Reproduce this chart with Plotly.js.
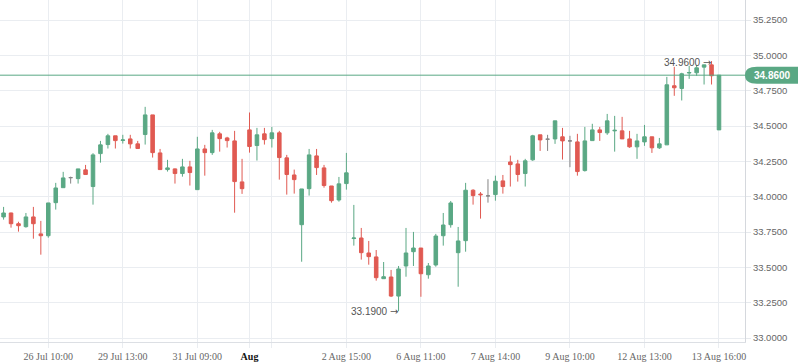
<!DOCTYPE html>
<html>
<head>
<meta charset="utf-8">
<script src="https://cdn.plot.ly/plotly-3.0.1.min.js"></script>
<style>html,body{margin:0;padding:0;background:#fff}#chart{width:798px;height:363px}</style>
</head>
<body>
<div id="chart"></div>
<script>
var opens = [33.857,33.885,33.809,33.788,33.857,33.737,33.724,33.958,34.064,34.135,
34.128,34.190,34.072,34.305,34.369,34.431,34.398,34.409,34.374,34.440,
34.579,34.310,34.192,34.197,34.164,34.211,34.050,34.338,34.312,34.445,
34.416,34.395,34.105,34.473,34.362,34.445,34.411,34.452,34.275,34.154,
33.802,34.057,34.289,34.204,34.076,33.977,34.093,33.704,33.708,33.602,
33.574,33.420,33.432,33.297,33.510,33.611,33.637,33.448,33.517,33.724,
33.802,33.604,33.689,34.046,34.019,34.006,34.015,34.112,34.246,34.232,
34.164,34.261,34.438,34.407,34.409,34.424,34.395,34.388,34.185,34.397,
34.473,34.452,34.466,34.466,34.409,34.353,34.388,34.424,34.346,34.367,
34.785,34.766,34.875,34.877,34.917,34.933,34.473];
var highs = [33.928,33.887,33.823,33.885,33.928,33.829,33.956,34.098,34.176,34.142,
34.197,34.225,34.308,34.395,34.445,34.431,34.438,34.438,34.395,34.636,
34.579,34.338,34.261,34.200,34.268,34.254,34.424,34.367,34.473,34.459,
34.424,34.466,34.268,34.596,34.487,34.487,34.494,34.466,34.296,34.192,
34.055,34.338,34.338,34.225,34.076,34.140,34.310,33.942,33.779,33.687,
33.623,33.538,33.482,33.510,33.779,33.751,33.637,33.531,33.737,33.885,
33.970,33.786,34.098,34.053,34.033,34.124,34.149,34.154,34.291,34.261,
34.268,34.438,34.438,34.438,34.537,34.487,34.431,34.445,34.494,34.516,
34.494,34.586,34.572,34.565,34.466,34.445,34.508,34.424,34.416,34.848,
34.919,34.877,34.926,34.933,34.933,34.960,34.860];
var lows = [33.838,33.781,33.753,33.781,33.703,33.590,33.710,33.909,34.064,34.093,
34.093,34.157,33.944,34.241,34.341,34.341,34.376,34.341,34.341,34.369,
34.277,34.192,34.178,34.093,34.142,34.079,34.050,34.149,34.296,34.319,
34.348,33.887,34.020,34.312,34.256,34.369,34.348,34.121,34.015,34.022,
33.540,34.008,34.154,34.064,33.958,33.965,34.050,33.654,33.555,33.519,
33.406,33.420,33.290,33.190,33.434,33.510,33.292,33.420,33.505,33.654,
33.781,33.363,33.611,33.944,33.845,33.958,33.972,34.022,34.072,34.107,
34.072,34.254,34.324,34.324,34.374,34.263,34.209,34.149,34.178,34.395,
34.395,34.438,34.319,34.409,34.346,34.268,34.360,34.310,34.338,34.367,
34.714,34.681,34.834,34.856,34.794,34.794,34.473];
var closes = [33.885,33.809,33.795,33.857,33.809,33.724,33.956,34.062,34.133,34.135,
34.197,34.157,34.296,34.367,34.431,34.397,34.402,34.374,34.341,34.579,
34.312,34.192,34.204,34.164,34.211,34.171,34.338,34.312,34.452,34.411,
34.397,34.107,34.057,34.355,34.438,34.404,34.452,34.277,34.157,34.121,
34.055,34.296,34.206,34.079,33.972,34.091,34.169,33.708,33.604,33.576,
33.427,33.434,33.297,33.489,33.602,33.637,33.455,33.510,33.722,33.800,
33.956,33.687,34.046,34.008,34.014,34.006,34.110,34.072,34.227,34.157,
34.254,34.431,34.402,34.407,34.537,34.395,34.395,34.178,34.395,34.473,
34.454,34.537,34.470,34.409,34.353,34.395,34.424,34.346,34.374,34.792,
34.771,34.870,34.879,34.912,34.933,34.856,34.860];

var tickIdx = [6,16,26,33,36,46,56,66,76,86,96];
var tickLabels = ["26 Jul 10:00","29 Jul 13:00","31 Jul 09:00","<b><span style=\"color:#111\">Aug</span></b>","","2 Aug 15:00","6 Aug 11:00","7 Aug 14:00","9 Aug 10:00","12 Aug 13:00","13 Aug 16:00"];
var monthIdx = 33;
var highLabel = {idx:95, value:34.96, text:"34.9600"};
var lowLabel = {idx:53, value:33.19, text:"33.1900"};
var lastPrice = 34.86;

var GREEN = "#5aa884", RED = "#e05a52", GRAY = "#858585";
var xs = opens.map(function(_, i){return i;});
function pick(arr, cond){ var r=[]; for (var i=0;i<arr.length;i++) if (cond(i)) r.push(arr[i]); return r; }
var isDoji = function(i){return opens[i] === closes[i];};
var notDoji = function(i){return opens[i] !== closes[i];};

var main = {type:"candlestick", x:pick(xs,notDoji), open:pick(opens,notDoji), high:pick(highs,notDoji), low:pick(lows,notDoji), close:pick(closes,notDoji),
  increasing:{line:{color:GREEN,width:1}, fillcolor:GREEN}, decreasing:{line:{color:RED,width:1}, fillcolor:RED},
  whiskerwidth:0, hoverinfo:"none", showlegend:false};
var doji = {type:"candlestick", x:pick(xs,isDoji), open:pick(opens,isDoji), high:pick(highs,isDoji), low:pick(lows,isDoji), close:pick(closes,isDoji),
  increasing:{line:{color:GRAY,width:1}, fillcolor:GRAY}, decreasing:{line:{color:GRAY,width:1}, fillcolor:GRAY},
  whiskerwidth:0, hoverinfo:"none", showlegend:false};

var yMin = 32.972, yMax = 35.392;
function yp(v){ return (v - yMin)/(yMax - yMin); }
var tagH = 0.06;
var xr = 1 + 53/745, xc = 1 + 12/745;
var yt = yp(lastPrice + tagH), yb = yp(lastPrice - tagH), ym = yp(lastPrice);
var tagPath = "M 1 " + ym + " Q 1 " + yt + " " + xc + " " + yt + " L " + xr + " " + yt + " L " + xr + " " + yb + " L " + xc + " " + yb + " Q 1 " + yb + " 1 " + ym + " Z";
var arrow = " <span style=\"font-family:DejaVu Sans\">→</span>";

var layout = {
  width:798, height:363,
  margin:{l:0, r:53, t:0, b:21, pad:0},
  paper_bgcolor:"#fff", plot_bgcolor:"#fff",
  showlegend:false, boxgap:0.32,
  xaxis:{type:"linear", range:[-0.48, 99.49], rangeslider:{visible:false}, tickmode:"array", tickvals:tickIdx, ticktext:tickLabels,
    showgrid:true, gridcolor:"#eaedf1", gridwidth:1, zeroline:false, showline:true, linecolor:"#dcdfe4", linewidth:1,
    ticks:"outside", ticklen:5, tickcolor:"#eaedf1", tickfont:{family:"Liberation Serif", size:10, color:"#666"}, fixedrange:true},
  yaxis:{side:"right", range:[yMin, yMax], dtick:0.25, tick0:33, tickformat:".4f",
    showgrid:true, gridcolor:"#eaedf1", gridwidth:1, zeroline:false, showline:true, linecolor:"#d5d8dd", linewidth:1,
    ticks:"outside", ticklen:5, tickcolor:"#e6e9ed", tickfont:{family:"Liberation Sans", size:9.5, color:"#666"}, fixedrange:true},
  shapes:[
    {type:"line", xref:"x", yref:"paper", x0:monthIdx, x1:monthIdx, y0:0, y1:1, line:{color:"#d6d8dc", width:1}, layer:"below"},
    {type:"line", xref:"paper", yref:"y", x0:0, x1:1, y0:lastPrice, y1:lastPrice, line:{color:GREEN, width:1}},
    {type:"path", xref:"paper", yref:"paper", path:tagPath, fillcolor:GREEN, line:{width:0}}
  ],
  annotations:[
    {xref:"paper", yref:"paper", x:1 + 27/745, y:ym, text:lastPrice.toFixed(4), showarrow:false, xanchor:"center", yanchor:"middle",
      font:{family:"Liberation Sans", size:10, color:"#fff", weight:"bold"}},
    {xref:"x", yref:"y", x:highLabel.idx, y:highLabel.value, text:highLabel.text + arrow, showarrow:false, xanchor:"right", yanchor:"middle", xshift:1, yshift:-1,
      font:{family:"Liberation Sans", size:10, color:"#555"}},
    {xref:"x", yref:"y", x:lowLabel.idx, y:lowLabel.value, text:lowLabel.text + arrow, showarrow:false, xanchor:"right", yanchor:"middle", xshift:1,
      font:{family:"Liberation Sans", size:10, color:"#555"}}
  ]
};
Plotly.newPlot("chart", [main, doji], layout, {staticPlot:true, displayModeBar:false});
</script>
</body>
</html>
